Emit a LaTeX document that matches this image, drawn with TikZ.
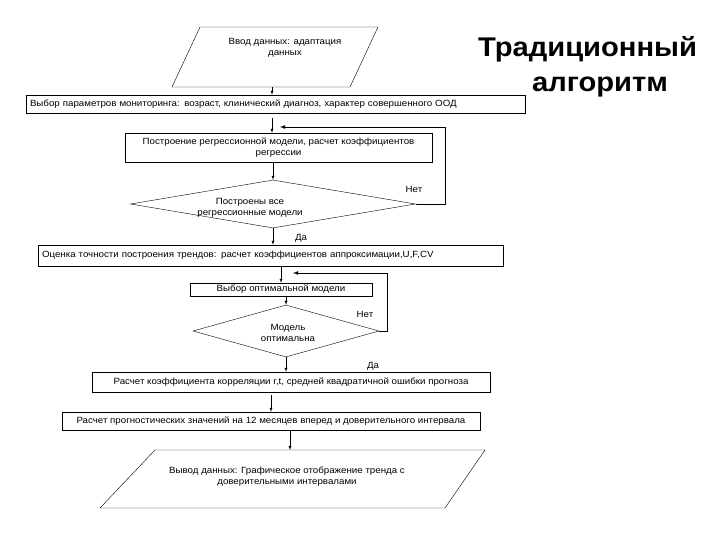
\documentclass[tikz,border=0pt]{standalone}
\usepackage{fontspec}
\setmainfont{Liberation Sans}[FakeStretch=1.08]
\usetikzlibrary{shapes.geometric}
\tikzset{
  box/.style={draw, thin, rectangle, inner sep=1pt, font=\fontsize{9}{11}\selectfont, align=center},
  dec/.style={draw, thin, diamond, inner sep=0pt},
  txt/.style={font=\fontsize{9}{11}\selectfont, align=center},
  flow/.style={thin, -latex},
  back/.style={thick, -latex}
}
\begin{document}
\begin{tikzpicture}[x=1pt,y=-1pt]
\useasboundingbox (0,0) rectangle (720,540);
% input
\draw[thin] (200,27) -- (378,27) -- (350,87) -- (172,87) -- cycle;
\node (in) [txt] at (285,48) {Ввод данных: адаптация\\данных};
\coordinate (inb) at (272,87);
% title
\node (title) [font=\fontsize{27}{35}\selectfont\bfseries, align=center] at (600,67) {\hspace*{-25pt}Традиционный\\алгоритм};
% boxes
\node (b1) [box, minimum width=499, minimum height=18, text width=491, align=left] at (275.5,104) {Выбор параметров мониторинга: возраст, клинический диагноз, характер совершенного ООД};
\node (b2) [box, minimum width=307, minimum height=29] at (278.5,147.5) {Построение регрессионной модели, расчет коэффициентов\\регрессии};
\node (d1) [dec, minimum width=285, minimum height=48, aspect=5.9] at (273,204) {};
\node (d1t) [txt] at (250,208) {Построены все\\регрессионные модели};
\node (b3) [box, minimum width=465, minimum height=21, text width=457, align=left] at (270.5,255.5) {Оценка точности построения трендов: расчет коэффициентов аппроксимации,U,F,CV};
\node (b4) [box, minimum width=182, minimum height=13] at (281,289.5) {Выбор оптимальной модели};
\node (d2) [dec, minimum width=186, minimum height=52, aspect=3.6] at (286,331) {};
\node (d2t) [txt] at (288,333) {Модель\\оптимальна};
\node (b5) [box, minimum width=398, minimum height=20] at (291,382) {Расчет коэффициента корреляции r,t, средней квадратичной ошибки прогноза};
\node (b6) [box, minimum width=418, minimum height=18] at (271,421) {Расчет прогностических значений на 12 месяцев вперед и доверительного интервала};
% output
\draw[thin] (155,450) -- (485,450) -- (445,508) -- (100,508) -- cycle;
\node (out) [txt] at (287,477) {Вывод данных: Графическое отображение тренда с\\доверительными интервалами};
\coordinate (outt) at (290,450);
% labels
\node (no1) [txt] at (414,189) {Нет};
\node (yes1) [txt] at (301,238) {Да};
\node (no2) [txt] at (365,314) {Нет};
\node (yes2) [txt] at (373,366) {Да};
% connectors
\draw[flow] (inb) -- (b1.north -| inb);
\draw[flow] (b1.south -| inb) ++(0,5) coordinate (c1) -- (b2.north -| c1);
\draw[flow] (b2.south -| d1.north) -- (d1.north);
\draw[flow] (d1.south) -- (b3.north -| d1.south);
\draw[flow] (b3.south -| b4.north) -- (b4.north);
\draw[flow] (b4.south -| d2.north) -- (d2.north);
\draw[flow] (d2.south) -- (b5.north -| d2.south);
\draw[flow] (b5.south -| b6.north) ++(0,3) coordinate (c5) -- (b6.north);
\draw[flow] (b6.north |- b6.south) ++(19,0) coordinate (c6) -- (outt);
% feedback loops
\coordinate (r1) at (445,127);
\coordinate (r2) at (387,273);
\draw[back] (d1.east) -- (d1.east -| r1) -- (r1) -- (280,127);
\draw[back] (d2.east) -- (d2.east -| r2) -- (r2) -- (293,273);
\end{tikzpicture}
\end{document}
